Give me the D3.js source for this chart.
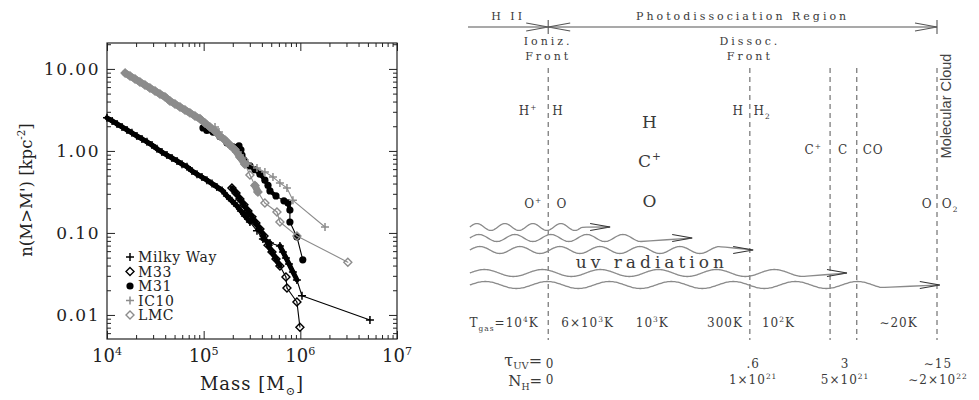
<!DOCTYPE html>
<html><head><meta charset="utf-8">
<script src="https://cdn.jsdelivr.net/npm/d3@7"></script>
<style>body{margin:0;background:#fff}svg{display:block}</style>
</head><body>
<svg id="c" width="979" height="400"></svg>
<script>
// ================= LEFT PANEL DATA: [mass (Msun), n(M>M') (kpc^-2)] =================
const milkyWay = [[1.0e4,2.53],[1.13e4,2.32],[1.27e4,2.13],[1.43e4,1.96],[1.61e4,1.80],[1.81e4,1.66],[2.04e4,1.52],
 [2.30e4,1.40],[2.59e4,1.29],[2.92e4,1.18],[3.29e4,1.06],[3.70e4,0.97],[4.17e4,0.89],[4.70e4,0.82],[5.30e4,0.755],
 [5.97e4,0.69],[6.72e4,0.64],[7.57e4,0.57],[8.53e4,0.52],[9.60e4,0.48],[1.08e5,0.44],[1.22e5,0.40],[1.37e5,0.364],
 [1.55e5,0.33],[1.74e5,0.283],[1.96e5,0.246],[2.21e5,0.213],[2.43e5,0.185],[2.67e5,0.161],[3.01e5,0.136],
 [3.56e5,0.106],[4.10e5,0.0845],[4.85e5,0.0755],[6.15e5,0.0694],[6.61e5,0.0587],[7.10e5,0.0496],[7.63e5,0.0419],
 [8.38e5,0.0334],[9.22e5,0.0267],[1.04e6,0.0171],[5.25e6,0.0087]];
const m33 = [[1.96e5,0.354],[2.16e5,0.307],[2.37e5,0.26],[2.61e5,0.22],[2.87e5,0.185],[3.16e5,0.157],[3.47e5,0.132],
 [3.82e5,0.112],[4.21e5,0.092],[4.63e5,0.071],[5.09e5,0.0587],[5.60e5,0.0482],[6.15e5,0.0396],[7.10e5,0.029],
 [7.27e5,0.0213],[9.22e5,0.0144],[9.9e5,0.0071]];
const m31 = [[9.84e4,1.91],[1.08e5,1.78],[1.25e5,1.70],[1.47e5,1.50],[1.74e5,1.26],[2.01e5,1.12],[2.32e5,1.15],
 [2.43e5,1.03],[2.49e5,0.89],[2.61e5,0.78],[2.74e5,0.69],[3.01e5,0.656],[3.39e5,0.59],[3.82e5,0.52],[4.30e5,0.44],
 [4.63e5,0.38],[4.85e5,0.325],[5.60e5,0.283],[6.76e5,0.246],[7.45e5,0.232],[7.80e5,0.19],[7.80e5,0.136],
 [9.22e5,0.0894],[1.06e6,0.047]];
const ic10 = [[1.31e5,1.96],[1.44e5,1.70],[1.58e5,1.44],[1.78e5,1.22],[2.01e5,1.06],[2.26e5,0.97],[2.55e5,0.82],
 [2.87e5,0.714],[3.56e5,0.62],[4.30e5,0.555],[5.21e5,0.48],[6.15e5,0.407],[7.27e5,0.354],[8.38e5,0.25],[1.80e6,0.118]];
const lmc = [[1.54e4,8.9],[1.73e4,8.2],[1.95e4,7.55],[2.19e4,6.94],[2.47e4,6.38],[2.78e4,5.86],[3.14e4,5.39],
 [3.53e4,4.96],[3.98e4,4.56],[4.48e4,4.07],[5.05e4,3.74],[5.69e4,3.44],[6.41e4,3.16],[7.21e4,2.91],[8.13e4,2.67],
 [9.16e4,2.46],[1.03e5,2.19],[1.16e5,1.96],[1.31e5,1.75],[1.47e5,1.52],[1.66e5,1.36],[1.87e5,1.18],[2.11e5,1.03],
 [2.37e5,0.845],[2.67e5,0.69],[3.01e5,0.51],[3.39e5,0.38],[3.64e5,0.316],[4.30e5,0.232],[5.73e5,0.18],
 [6.15e5,0.136],[9.22e5,0.092],[3.1e6,0.044]];
const seriesNames = ["Milky Way","M33","M31","IC10","LMC"];
const xTickValues = [1e4,1e5,1e6,1e7];
const xTickLabels = ["10^4","10^5","10^6","10^7"];
const yTickValues = [10,1,0.1,0.01];
const yTickLabels = ["10.00","1.00","0.10","0.01"];

// ================= RIGHT PANEL DATA (depth units 0..100 across the slab) =================
const regionLabels = ["H II","Photodissociation Region"];
const regionBounds = [[0,17.1],[17.1,100]];
const frontLabels = [["Ioniz.","Front"],["Dissoc.","Front"]];
const frontDepths = [17.1,60.1];
const boundaryDepths = [17.1,60.1,77.2,82.9,100];
const speciesSmall = [["H^+",12.8],["H",19.2],["H",57.6],["H_2",62.7]];
const speciesMid = [["C^+",73.6],["C",80.0],["CO",86.4]];
const speciesO = [["O^+",13.9],["O",20.0],["O",97.9],["O_2",102.8]];
const speciesBig = ["H","C^+","O"];
const speciesBigDepth = 38.8;
const tempLabels = ["T_{gas}=10^4K","6×10^3K","10^3K","300K","10^2K","∼20K"];
const tempDepths = [7.7,25.5,39.3,54.8,66.2,91.8];
const tauValues = ["0",".6","3","∼15"];
const nhValues = ["0","1×10^{21}","5×10^{21}","∼2×10^{22}"];
const columnDepths = [17.5,60.8,80.4,100.2];
const uvTips = [30.3,47.8,60.8,80.8,100.6];

// ================= DRAW =================
const svg = d3.select("#c");
const serif = "'DejaVu Serif', serif";
function rich(sel, str, fs, subShift){
  const re = /([\^_])(\{[^}]*\}|.)/g; let last=0, m; const parts=[];
  while((m=re.exec(str))){ if(m.index>last) parts.push({t:str.slice(last,m.index),k:0});
    let s=m[2]; if(s[0]==='{') s=s.slice(1,-1); parts.push({t:s,k:m[1]==='^'?1:-1}); last=re.lastIndex; }
  if(last<str.length) parts.push({t:str.slice(last),k:0});
  let cur=0; const sb = subShift==null?0.3:subShift;
  parts.forEach(p=>{ const target = p.k===1 ? -0.4*fs : p.k===-1 ? sb*fs : 0;
    const ts = sel.append("tspan").text(p.t).attr("dy", target-cur);
    if(p.k!==0) ts.attr("font-size", fs*0.62); cur=target; });
  return sel;
}

// ---------- Left panel ----------
const x = d3.scaleLog().domain([1e4,1e7]).range([107,397]);
const y = d3.scaleLog().domain([0.00509,20.7]).range([339,43]);
const gL = svg.append("g");
function minors(lo,hi){ const o=[]; for(let e=Math.floor(Math.log10(lo));e<=Math.ceil(Math.log10(hi));e++) for(let k=2;k<=9;k++){const v=k*Math.pow(10,e); if(v>=lo&&v<=hi) o.push(v);} return o; }
function ax(fn, sc, vals, size, tr){
  const g=gL.append("g").attr("transform",tr).call(fn(sc).tickValues(vals).tickSizeInner(-size).tickSizeOuter(0).tickFormat(""));
  g.select(".domain").remove(); g.selectAll("line").attr("stroke","#222");
}
ax(d3.axisBottom,x,xTickValues,8,"translate(0,339)"); ax(d3.axisBottom,x,minors(1e4,1e7),4,"translate(0,339)");
ax(d3.axisTop,x,xTickValues,8,"translate(0,43)"); ax(d3.axisTop,x,minors(1e4,1e7),4,"translate(0,43)");
ax(d3.axisLeft,y,yTickValues,8,"translate(107,0)"); ax(d3.axisLeft,y,minors(0.00509,20.7),4,"translate(107,0)");
ax(d3.axisRight,y,yTickValues,8,"translate(397,0)"); ax(d3.axisRight,y,minors(0.00509,20.7),4,"translate(397,0)");
gL.append("rect").attr("x",x.range()[0]).attr("y",y.range()[1]).attr("width",x.range()[1]-x.range()[0])
  .attr("height",y.range()[0]-y.range()[1]).attr("fill","none").attr("stroke","#222").attr("stroke-width",1.2);

yTickValues.forEach((v,i)=>gL.append("text").attr("x",100).attr("y",y(v)+6).attr("text-anchor","end")
  .attr("font-family",serif).attr("font-size",17).style("letter-spacing","1.5px").attr("fill","#222").text(yTickLabels[i]));
xTickValues.forEach((v,i)=>rich(gL.append("text").attr("x",x(v)).attr("y",362).attr("text-anchor","middle")
  .attr("font-family",serif).attr("font-size",18).attr("fill","#222"), xTickLabels[i], 18));
rich(gL.append("text").attr("x",252).attr("y",390).attr("text-anchor","middle").attr("font-family",serif)
  .attr("font-size",18).style("letter-spacing","1px").attr("fill","#222"), "Mass [M_⊙]", 18);
rich(gL.append("text").attr("transform","translate(32,190) rotate(-90)").attr("text-anchor","middle").attr("font-family",serif)
  .attr("font-size",16.5).attr("fill","#222"), "n(M>M') [kpc^{-2}]", 16.5);

const styles = [
  {data:milkyWay,color:"#000",marker:"plus",band:5},
  {data:m33,color:"#000",marker:"diamond",band:5},
  {data:m31,color:"#000",marker:"circle",band:4},
  {data:ic10,color:"#8c8c8c",marker:"plus",band:0},
  {data:lmc,color:"#8c8c8c",marker:"diamond",band:7}
];
function drawMarker(g, type, cx, cy, color){
  if(type==="plus") g.append("path").attr("d",`M${cx-4},${cy}H${cx+4}M${cx},${cy-4}V${cy+4}`).attr("stroke",color).attr("stroke-width",1.5);
  else if(type==="diamond") g.append("path").attr("d",`M${cx},${cy-4}L${cx+4},${cy}L${cx},${cy+4}L${cx-4},${cy}Z`).attr("fill","none").attr("stroke",color).attr("stroke-width",1.4);
  else g.append("circle").attr("cx",cx).attr("cy",cy).attr("r",3.6).attr("fill",color);
}
const gData = gL.append("g");
styles.forEach(s=>{
  const pts = s.data.map(d=>[x(d[0]),y(d[1])]);
  for(let i=1;i<pts.length;i++){
    const dd=Math.hypot(pts[i][0]-pts[i-1][0],pts[i][1]-pts[i-1][1]);
    gData.append("line").attr("x1",pts[i-1][0]).attr("y1",pts[i-1][1]).attr("x2",pts[i][0]).attr("y2",pts[i][1])
      .attr("stroke",s.color).attr("stroke-width",(s.band&&dd<9)?s.band:1.1).attr("stroke-linecap","round");
  }
  pts.forEach(p=>drawMarker(gData,s.marker,p[0],p[1],s.color));
});
// legend
const legY = d3.scalePoint().domain(seriesNames).range([257,315]);
seriesNames.forEach((nm,i)=>{
  drawMarker(gL,styles[i].marker,130,legY(nm),styles[i].color);
  gL.append("text").attr("x",138).attr("y",legY(nm)+5).attr("font-family",serif).attr("font-size",14)
    .style("letter-spacing","0.6px").attr("fill","#222").text(nm);
});

// ---------- Right panel ----------
const u = d3.scaleLinear().domain([0,100]).range([468,937]);
const gR = svg.append("g");
const txtCol="#3a3a3a", lineCol="#555";
function label(xp, yp, str, fs, ls, anchor, sb){
  return rich(gR.append("text").attr("x",xp).attr("y",yp).attr("text-anchor",anchor||"middle").attr("font-family",serif)
    .attr("font-size",fs).style("letter-spacing",(ls||0)+"px").attr("fill",txtCol), str, fs, sb);
}
// top arrows
gR.append("line").attr("x1",u(0)).attr("x2",u(100)).attr("y1",27).attr("y2",27).attr("stroke",lineCol).attr("stroke-width",1.1);
[regionBounds[0][1],regionBounds[1][1]].forEach(d=>gR.append("line").attr("x1",u(d)).attr("x2",u(d)).attr("y1",20).attr("y2",34).attr("stroke",lineCol).attr("stroke-width",1.1));
function chevron(tip, yy, dir, len, hw, col){
  gR.append("path").attr("d",`M${tip-dir*len},${yy-hw}L${tip},${yy}L${tip-dir*len},${yy+hw}`).attr("fill","none").attr("stroke",col||lineCol).attr("stroke-width",1.1);
}
chevron(u(regionBounds[0][1]),27,1,22,4);
chevron(u(regionBounds[1][0]),27,-1,22,4);
chevron(u(regionBounds[1][1]),27,1,22,4);
regionLabels.forEach((t,i)=>label(u((regionBounds[i][0]+regionBounds[i][1])/2),20,t,11,3));
frontLabels.forEach((ls,i)=>{ label(u(frontDepths[i]),45,ls[0],11,3); label(u(frontDepths[i]),60,ls[1],11,3); });
// dashed boundaries
boundaryDepths.forEach(d=>gR.append("line").attr("x1",u(d)).attr("x2",u(d)).attr("y1",68).attr("y2",340)
  .attr("stroke",lineCol).attr("stroke-width",1).attr("stroke-dasharray","5,4"));
// species
speciesSmall.forEach(s=>label(u(s[1]),115,s[0],12,1));
speciesMid.forEach(s=>label(u(s[1]),154,s[0],12,1));
speciesO.forEach(s=>label(u(s[1]),208,s[0],12,1));
[128,167,207].forEach((yy,i)=>label(u(speciesBigDepth),yy,speciesBig[i],17,1));
// Molecular cloud
gR.append("text").attr("transform",`translate(${u(100)+14},106) rotate(-90)`).attr("text-anchor","middle")
  .attr("font-family","'Liberation Sans', Arial, sans-serif").attr("font-size",14.5).attr("fill","#444").text("Molecular Cloud");
// uv waves
const waveRows=[227,238,250,273,285], wavePeriods=[28,36,40,58,62], waveStraight=[28,50,33,44,58];
uvTips.forEach((tp,i)=>{
  const xs=u(0.4), xe=u(tp), xw=xe-waveStraight[i], y0=waveRows[i], P=wavePeriods[i];
  const pts=d3.range(xs,xw,1).map(xx=>[xx,y0-3.5*Math.sin(2*Math.PI*(xx-xs)/P)]);
  pts.push([xe,y0]);
  gR.append("path").attr("d",d3.line().curve(d3.curveBasis)(pts)).attr("fill","none").attr("stroke","#8a8a8a").attr("stroke-width",1.3);
  chevron(xe,y0,1,20,3.5,"#333");
});
label(u(39.2),268,"uv radiation",17,4);
// temperatures
tempLabels.forEach((t,i)=>label(u(tempDepths[i]),327,t,12,1));
// column densities
label(u(15.8),366,"τ_{UV}=",16,0,"end",0.18);
label(u(15.8),386,"N_H=",15,0,"end",0.25);
tauValues.forEach((t,i)=>label(u(columnDepths[i]),368,t,12,1));
nhValues.forEach((t,i)=>label(u(columnDepths[i]),384,t,12,1));
</script>
</body></html>
